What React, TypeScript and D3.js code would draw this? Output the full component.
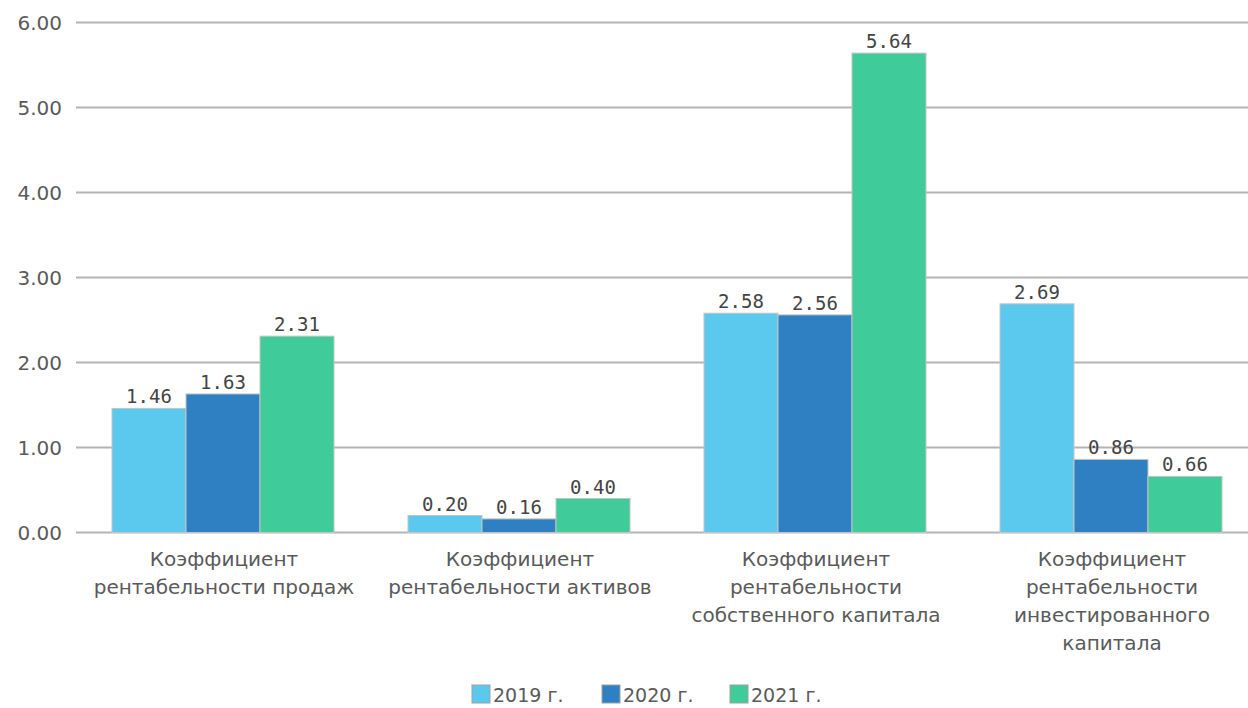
import { useEffect, useRef } from 'react'
import * as d3 from 'd3'

// данные
const categories = [
  'Коэффициент рентабельности продаж',
  'Коэффициент рентабельности активов',
  'Коэффициент рентабельности собственного капитала',
  'Коэффициент рентабельности инвестированного капитала',
]
const categoryLines = [
  ['Коэффициент', 'рентабельности продаж'],
  ['Коэффициент', 'рентабельности активов'],
  ['Коэффициент', 'рентабельности', 'собственного капитала'],
  ['Коэффициент', 'рентабельности', 'инвестированного', 'капитала'],
]
const seriesNames = ['2019 г.', '2020 г.', '2021 г.']
const values2019 = [1.46, 0.2, 2.58, 2.69]
const values2020 = [1.63, 0.16, 2.56, 0.86]
const values2021 = [2.31, 0.4, 5.64, 0.66]
const yTicks = [0, 1, 2, 3, 4, 5, 6]

const colors = ['#5BC8EE', '#2E80C2', '#3FCC9A']

const W = 1248
const H = 708
const X0 = 76
const X1 = 1260
const Y0 = 532.5
const Y1 = 22.5
const TXT = '#5a5a5a'
const FONT = '"DejaVu Sans", sans-serif'
const MONO = '"DejaVu Sans Mono", monospace'

export default function App() {
  const svgRef = useRef<SVGSVGElement>(null)

  useEffect(() => {
    const svg = d3.select(svgRef.current)
    svg.selectAll('*').remove()

    const series = [values2019, values2020, values2021]

    const x = d3.scaleBand<string>().domain(categories).range([X0, X1])
    const xs = d3.scaleBand<string>().domain(seriesNames).range([36, 258])
    const y = d3.scaleLinear().domain([0, 6]).range([Y0, Y1])

    // ── сетка ──
    const grid = svg.append('g')
    yTicks.forEach((t) => {
      grid.append('line')
        .attr('x1', X0).attr('x2', W)
        .attr('y1', y(t)).attr('y2', y(t))
        .attr('stroke', '#b4b4b4').attr('stroke-width', 2)
      grid.append('text')
        .attr('x', 62).attr('y', y(t)).attr('dy', '0.36em')
        .attr('text-anchor', 'end')
        .attr('font-family', FONT).attr('font-size', 20).attr('fill', TXT)
        .text(d3.format('.2f')(t))
    })

    // ── столбцы ──
    series.forEach((vals, si) => {
      const g = svg.append('g')
      vals.forEach((v, ci) => {
        const bx = (x(categories[ci]) ?? 0) + (xs(seriesNames[si]) ?? 0)
        g.append('rect')
          .attr('x', bx).attr('y', y(v))
          .attr('width', xs.bandwidth()).attr('height', Y0 - y(v))
          .attr('fill', colors[si])
          .attr('stroke', '#c4c4c4').attr('stroke-width', 1)
        g.append('text')
          .attr('x', bx + xs.bandwidth() / 2).attr('y', y(v) - 5)
          .attr('text-anchor', 'middle')
          .attr('font-family', MONO).attr('font-size', 19).attr('fill', '#444')
          .text(d3.format('.2f')(v))
      })
    })

    // ── подписи категорий ──
    categoryLines.forEach((lines, ci) => {
      const cx = (x(categories[ci]) ?? 0) + x.bandwidth() / 2
      lines.forEach((ln, li) => {
        svg.append('text')
          .attr('x', cx).attr('y', 566 + li * 28)
          .attr('text-anchor', 'middle')
          .attr('font-family', FONT).attr('font-size', 20).attr('fill', TXT)
          .text(ln)
      })
    })

    // ── легенда ──
    const legX = [472, 602, 730]
    seriesNames.forEach((name, i) => {
      svg.append('rect')
        .attr('x', legX[i]).attr('y', 685)
        .attr('width', 18).attr('height', 18)
        .attr('fill', colors[i])
        .attr('stroke', '#a0a0a0').attr('stroke-width', 1)
      svg.append('text')
        .attr('x', legX[i] + 21).attr('y', 702)
        .attr('font-family', FONT).attr('font-size', 19).attr('fill', TXT)
        .text(name)
    })
  }, [])

  return (
    <div style={{ position: 'absolute', left: 0, top: 0 }}>
      <svg ref={svgRef} width={W} height={H} style={{ display: 'block', background: '#fff' }} />
    </div>
  )
}
